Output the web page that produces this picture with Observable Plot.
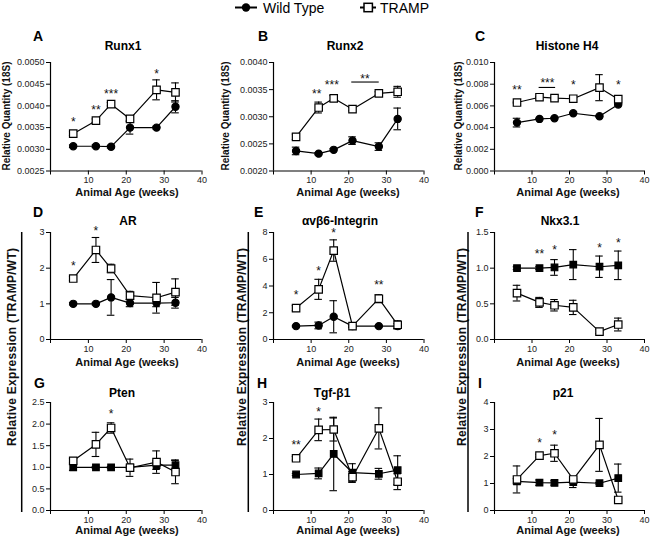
<!DOCTYPE html>
<html><head><meta charset="utf-8">
<script src="https://cdn.jsdelivr.net/npm/d3@7"></script>
<script src="https://cdn.jsdelivr.net/npm/@observablehq/plot@0.6"></script>
<style>
body{margin:0;background:#fff;}
#root{position:relative;width:650px;height:537px;overflow:hidden;font-family:"Liberation Sans",Arial,sans-serif;background:#fff;}
#root svg{position:absolute;}
</style></head><body><div id="root"></div>
<script>
// ---------- data ----------
const weeks = [6, 12, 16, 21, 28, 33];
const xTicks = [0, 10, 20, 30, 40];

const runx1WT = [0.00307, 0.00307, 0.00306, 0.0035, 0.0035, 0.00398];
const runx1WTErr = [0.00003, 0.00003, 0.00003, 0.00015, 0.00003, 0.00014];
const runx1TR = [0.00336, 0.00366, 0.00404, 0.0037, 0.00437, 0.00431];
const runx1TRErr = [0.00004, 0.00004, 0.00004, 0.00005, 0.00023, 0.00022];
const runx1Stars = [{x: 6, y: 0.00369, t: "*"}, {x: 12, y: 0.00396, t: "**"}, {x: 16, y: 0.00435, t: "***"}, {x: 28, y: 0.0048, t: "*"}];
const runx1Ticks = [0.0025, 0.0030, 0.0035, 0.0040, 0.0045, 0.0050];

const runx2WT = [0.00237, 0.00232, 0.00239, 0.00256, 0.00245, 0.00296];
const runx2WTErr = [0.00007, 0.00002, 0.00002, 0.00007, 0.00007, 0.0002];
const runx2TR = [0.00263, 0.00317, 0.00334, 0.00314, 0.00343, 0.00346];
const runx2TRErr = [0.00005, 0.0001, 0.00005, 0.00003, 0.00003, 0.0001];
const runx2Stars = [{x: 11.5, y: 0.00348, t: "**"}, {x: 15.5, y: 0.00363, t: "***"}, {x: 24.3, y: 0.00375, t: "**"}];
const runx2Bars = [{x1: 20.8, x2: 28.1, y: 0.00364}];
const runx2Ticks = [0.0020, 0.0025, 0.0030, 0.0035, 0.0040];

const h4WT = [0.00446, 0.0048, 0.00486, 0.00532, 0.00504, 0.00613];
const h4WTErr = [0.0004, 0.00005, 0.00005, 0.00005, 0.00005, 0.00005];
const h4TR = [0.00631, 0.0068, 0.00671, 0.00666, 0.00768, 0.00662];
const h4TRErr = [0.00005, 0.00005, 0.00005, 0.00005, 0.0012, 0.00005];
const h4Stars = [{x: 6, y: 0.0077, t: "**"}, {x: 14.1, y: 0.0084, t: "***"}, {x: 21, y: 0.0082, t: "*"}, {x: 33, y: 0.0082, t: "*"}];
const h4Bars = [{x1: 11.9, x2: 16.3, y: 0.0077}];
const h4Ticks = [0, 0.002, 0.004, 0.006, 0.008, 0.010];

const arWT = [1.0, 1.0, 1.18, 1.02, 1.02, 1.03];
const arWTErr = [0.03, 0.03, 0.5, 0.1, 0.1, 0.15];
const arTR = [1.71, 2.51, 1.99, 1.23, 1.17, 1.33];
const arTRErr = [0.05, 0.35, 0.12, 0.12, 0.43, 0.37];
const arStars = [{x: 6, y: 2.15, t: "*"}, {x: 12, y: 3.12, t: "*"}];
const arTicks = [0, 1, 2, 3];

const itgWT = [1.0, 1.05, 1.7, 1.0, 1.0, 1.0];
const itgWTErr = [0.05, 0.25, 1.2, 0.1, 0.05, 0.2];
const itgTR = [2.35, 3.75, 6.65, 1.0, 3.05, 1.1];
const itgTRErr = [0.2, 0.75, 0.8, 0.1, 0.3, 0.3];
const itgStars = [{x: 6, y: 3.55, t: "*"}, {x: 12, y: 5.3, t: "*"}, {x: 16, y: 8.2, t: "*"}, {x: 28, y: 4.3, t: "**"}];
const itgTicks = [0, 2, 4, 6, 8];

const nkxWT = [1.0, 1.0, 1.01, 1.05, 1.02, 1.04];
const nkxWTErr = [0.02, 0.02, 0.11, 0.21, 0.15, 0.2];
const nkxTR = [0.65, 0.52, 0.48, 0.45, 0.11, 0.21];
const nkxTRErr = [0.11, 0.07, 0.08, 0.1, 0.03, 0.09];
const nkxStars = [{x: 12, y: 1.24, t: "**"}, {x: 16, y: 1.3, t: "*"}, {x: 28, y: 1.32, t: "*"}, {x: 33, y: 1.39, t: "*"}];
const nkxTicks = [0, 0.5, 1.0, 1.5];

const ptenWT = [1.0, 1.0, 1.0, 1.0, 1.05, 1.05];
const ptenWTErr = [0.07, 0.02, 0.02, 0.03, 0.1, 0.12];
const ptenTR = [1.15, 1.53, 1.91, 0.99, 1.12, 0.89];
const ptenTRErr = [0.05, 0.28, 0.12, 0.2, 0.26, 0.27];
const ptenStars = [{x: 16, y: 2.3, t: "*"}];
const ptenTicks = [0, 0.5, 1.0, 1.5, 2.0, 2.5];

const tgfWT = [1.0, 1.03, 1.57, 1.05, 1.02, 1.12];
const tgfWTErr = [0.03, 0.15, 1.02, 0.25, 0.15, 0.4];
const tgfTR = [1.45, 2.24, 2.25, 0.93, 2.28, 0.8];
const tgfTRErr = [0.05, 0.3, 0.32, 0.15, 0.57, 0.22];
const tgfStars = [{x: 6, y: 1.9, t: "**"}, {x: 12, y: 2.82, t: "*"}];
const tgfTicks = [0, 1, 2, 3];

const p21WT = [1.08, 1.03, 1.02, 1.05, 1.01, 1.2];
const p21WTErr = [0.1, 0.1, 0.08, 0.2, 0.03, 0.52];
const p21TR = [1.15, 2.03, 2.12, 1.15, 2.43, 0.39];
const p21TRErr = [0.5, 0.05, 0.3, 0.1, 0.98, 0.05];
const p21Stars = [{x: 12, y: 2.6, t: "*"}, {x: 16, y: 2.9, t: "*"}];
const p21Ticks = [0, 1, 2, 3, 4];

// ---------- layout ----------
const cols = [{x0: 50, x40: 201.5}, {x0: 272.5, x40: 423}, {x0: 493.5, x40: 643.5}];
const rowsY = [{top: 62, bot: 170.5}, {top: 232, bot: 339}, {top: 402, bot: 510}];
const FONT = '"Liberation Sans", Arial, sans-serif';
const root = document.getElementById("root");

function rows(ys, es) { return weeks.map((x, i) => ({x, y: ys[i], e: es[i]})); }

function series(data, symbol, fill, r) {
  return [
    Plot.ruleX(data, {x: "x", y1: d => d.y - d.e, y2: d => d.y + d.e, stroke: "#000", strokeWidth: 1.1}),
    Plot.ruleY(data, {x1: d => d.x - 1, x2: d => d.x + 1, y: d => d.y + d.e, stroke: "#000", strokeWidth: 1.1}),
    Plot.ruleY(data, {x1: d => d.x - 1, x2: d => d.x + 1, y: d => d.y - d.e, stroke: "#000", strokeWidth: 1.1}),
    Plot.line(data, {x: "x", y: "y", stroke: "#000", strokeWidth: 1.2}),
    Plot.dot(data, {x: "x", y: "y", symbol, r, fill, stroke: "#000", strokeWidth: 1.2})
  ];
}

function panel(p) {
  const c = cols[p.col], rw = rowsY[p.row];
  const ml = 45, mr = 6, mt = 12, mb = 22;
  const w = ml + (c.x40 - c.x0) + mr;
  const h = mt + (rw.bot - rw.top) + mb;
  const svg = Plot.plot({
    width: w, height: h, marginLeft: ml, marginRight: mr, marginTop: mt, marginBottom: mb,
    x: {domain: [0, 40]},
    y: {domain: p.domain},
    style: {fontFamily: FONT, fontSize: "9px", color: "#000", background: "transparent", overflow: "visible"},
    marks: [
      Plot.axisX({ticks: xTicks, tickFormat: d => d === 0 ? "" : d, tickSize: 4, tickPadding: 2, label: null, fill: "#222"}),
      Plot.axisY({ticks: p.ticks, tickFormat: p.fmt, tickSize: 4, tickPadding: 2, label: null, fill: "#222"}),
      Plot.ruleY([p.domain[0]], {x1: () => 0, x2: () => 40, stroke: "#000", strokeWidth: 1.2}),
      Plot.ruleX([0], {y1: () => p.domain[0], y2: () => p.domain[1], stroke: "#000", strokeWidth: 1.2}),
      ...series(rows(p.wt, p.wtErr), p.wtSym, "#000", p.wtSym === "circle" ? 3.6 : 3.7),
      ...series(rows(p.tr, p.trErr), "square", "#fff", 4.2),
      Plot.ruleY(p.bars || [], {x1: "x1", x2: "x2", y: "y", stroke: "#000", strokeWidth: 1.1}),
      Plot.text(p.stars, {x: "x", y: "y", text: "t", fontSize: 12, dy: 3, fill: "#111"})
    ]
  });
  svg.style.left = (c.x0 - ml) + "px";
  svg.style.top = (rw.top - mt) + "px";
  root.appendChild(svg);
}

const f4 = d3.format(".4f"), f3 = d3.format(".3f"), f1 = d3.format(".1f"), f0 = d3.format("d");

panel({col: 0, row: 0, domain: [0.0025, 0.005], ticks: runx1Ticks, fmt: f4, wt: runx1WT, wtErr: runx1WTErr, tr: runx1TR, trErr: runx1TRErr, wtSym: "circle", stars: runx1Stars});
panel({col: 1, row: 0, domain: [0.002, 0.004], ticks: runx2Ticks, fmt: f4, wt: runx2WT, wtErr: runx2WTErr, tr: runx2TR, trErr: runx2TRErr, wtSym: "circle", stars: runx2Stars, bars: runx2Bars});
panel({col: 2, row: 0, domain: [0, 0.010], ticks: h4Ticks, fmt: f3, wt: h4WT, wtErr: h4WTErr, tr: h4TR, trErr: h4TRErr, wtSym: "circle", stars: h4Stars, bars: h4Bars});
panel({col: 0, row: 1, domain: [0, 3], ticks: arTicks, fmt: f0, wt: arWT, wtErr: arWTErr, tr: arTR, trErr: arTRErr, wtSym: "circle", stars: arStars});
panel({col: 1, row: 1, domain: [0, 8], ticks: itgTicks, fmt: f0, wt: itgWT, wtErr: itgWTErr, tr: itgTR, trErr: itgTRErr, wtSym: "circle", stars: itgStars});
panel({col: 2, row: 1, domain: [0, 1.5], ticks: nkxTicks, fmt: f1, wt: nkxWT, wtErr: nkxWTErr, tr: nkxTR, trErr: nkxTRErr, wtSym: "square", stars: nkxStars});
panel({col: 0, row: 2, domain: [0, 2.5], ticks: ptenTicks, fmt: f1, wt: ptenWT, wtErr: ptenWTErr, tr: ptenTR, trErr: ptenTRErr, wtSym: "square", stars: ptenStars});
panel({col: 1, row: 2, domain: [0, 3], ticks: tgfTicks, fmt: f0, wt: tgfWT, wtErr: tgfWTErr, tr: tgfTR, trErr: tgfTRErr, wtSym: "square", stars: tgfStars});
panel({col: 2, row: 2, domain: [0, 4], ticks: p21Ticks, fmt: f0, wt: p21WT, wtErr: p21WTErr, tr: p21TR, trErr: p21TRErr, wtSym: "square", stars: p21Stars});

// ---------- overlay text ----------
const letters = [["A", 33, 41], ["B", 258, 41], ["C", 475, 41], ["D", 33, 217], ["E", 254, 217], ["F", 475, 217], ["G", 34, 388], ["H", 257, 388], ["I", 478, 388]];
const titles = [["Runx1", 123, 50], ["Runx2", 345, 50], ["Histone H4", 567, 50], ["AR", 128, 225], ["αvβ6-Integrin", 340, 225], ["Nkx3.1", 560, 225], ["Pten", 122, 397], ["Tgf-β1", 332, 397], ["p21", 563, 397]];
const xLabels = [[127, 196], [348, 196], [568, 196], [127, 366], [348, 366], [568, 366], [127, 534], [348, 534], [568, 534]];
const yLabelsTop = [[6, 116], [225.5, 116], [458.5, 116]];
const yLabelsBottom = [[12, 347], [242, 347], [462, 347]];
const brackets = [21.7, 248.3, 468];

const ov = d3.select(root).append("svg").attr("width", 650).attr("height", 537)
  .style("left", "0px").style("top", "0px").style("pointer-events", "none")
  .attr("font-family", FONT);

letters.forEach(([t, x, y]) => ov.append("text").attr("x", x).attr("y", y).attr("font-size", 14).attr("font-weight", "bold").text(t));
titles.forEach(([t, x, y]) => ov.append("text").attr("x", x).attr("y", y).attr("text-anchor", "middle").attr("font-size", 12).attr("font-weight", "bold").text(t));
xLabels.forEach(([x, y]) => ov.append("text").attr("x", x).attr("y", y).attr("text-anchor", "middle").attr("font-size", 11).attr("font-weight", "bold").attr("fill", "#111").text("Animal Age (weeks)"));
yLabelsTop.forEach(([x, y]) => ov.append("text").attr("transform", `translate(${x},${y}) rotate(-90)`).attr("text-anchor", "middle").attr("dominant-baseline", "central").attr("font-size", 10).attr("font-weight", "bold").attr("fill", "#111").text("Relative Quantity (18S)"));
yLabelsBottom.forEach(([x, y]) => ov.append("text").attr("transform", `translate(${x},${y}) rotate(-90)`).attr("text-anchor", "middle").attr("dominant-baseline", "central").attr("font-size", 12).attr("font-weight", "bold").attr("fill", "#111").attr("textLength", 198).attr("lengthAdjust", "spacing").text("Relative Expression (TRAMP/WT)"));
brackets.forEach(x => ov.append("line").attr("x1", x).attr("x2", x).attr("y1", 232).attr("y2", 512).attr("stroke", "#000").attr("stroke-width", 1.5));

// legend
ov.append("line").attr("x1", 235).attr("x2", 257).attr("y1", 7.5).attr("y2", 7.5).attr("stroke", "#000").attr("stroke-width", 2);
ov.append("circle").attr("cx", 246).attr("cy", 7.5).attr("r", 4.2).attr("fill", "#000");
ov.append("text").attr("x", 263).attr("y", 12.5).attr("font-size", 14).text("Wild Type");
ov.append("line").attr("x1", 360).attr("x2", 376).attr("y1", 7.5).attr("y2", 7.5).attr("stroke", "#000").attr("stroke-width", 2);
ov.append("rect").attr("x", 364).attr("y", 3.3).attr("width", 8.4).attr("height", 8.4).attr("fill", "#fff").attr("stroke", "#000").attr("stroke-width", 1.5);
ov.append("text").attr("x", 380).attr("y", 12.5).attr("font-size", 14).text("TRAMP");
</script></body></html>
